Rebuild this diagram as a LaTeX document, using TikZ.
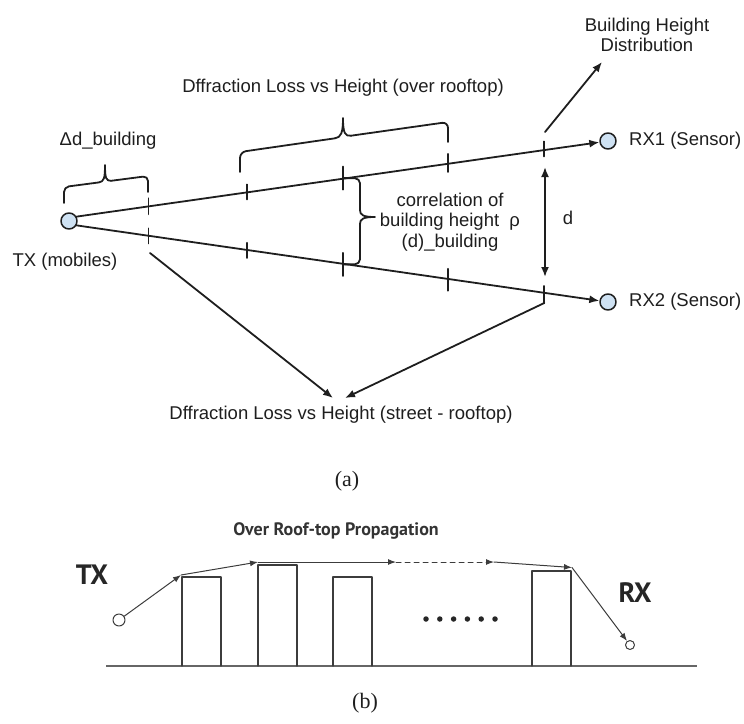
\documentclass[tikz,border=0pt]{standalone}
\usepackage{fontspec}
\setmainfont{Liberation Sans}
\newfontfamily\capfont{Liberation Serif}
\newfontfamily\bfont{PT Sans}
\usetikzlibrary{arrows.meta,calc}
\definecolor{sensfill}{RGB}{207,226,243}
\definecolor{ink}{RGB}{30,30,30}
\definecolor{bink}{RGB}{60,60,60}
\newcommand\tickmark[3]{\draw[ln] ($(#1)+(0,-#2)$) -- ($(#1)+(0,#3)$);}
\begin{document}
\begin{tikzpicture}[x=1pt,y=-1pt, line cap=round, line join=round,
  lbl/.style={font=\fontsize{18.5}{20.5}\selectfont, text=ink, inner sep=0pt},
  ln/.style={line width=1.8pt, draw=ink},
  arr/.style={ln, -{Latex[length=10pt,width=8pt]}},
  dbl/.style={ln, {Latex[length=10pt,width=8pt]}-{Latex[length=10pt,width=8pt]}},
  sens/.style={circle, draw=ink, line width=1.5pt, fill=sensfill, minimum size=16pt, inner sep=0pt},
  capl/.style={font=\capfont\fontsize{22}{26}\selectfont, text=ink, inner sep=0pt},
  bl/.style={line width=1pt, draw=bink},
  barr/.style={bl, -{Latex[length=8pt,width=6pt]}},
  bdash/.style={bl, dashed, dash pattern=on 5pt off 4pt, -{Latex[length=8pt,width=6pt]}},
  bldg/.style={draw=bink, line width=1.1pt},
  bcirc/.style={circle, draw=bink, line width=1pt, fill=white, inner sep=0pt},
  bbig/.style={font=\bfont\bfseries\fontsize{28}{30}\selectfont, text=black!85, inner sep=0pt},
  btitle/.style={font=\bfont\bfseries\fontsize{18}{20}\selectfont, text=black!80, inner sep=0pt},
  dotc/.style={circle, fill=black!85, inner sep=0pt, minimum size=5.5pt}
]
\useasboundingbox (0,0) rectangle (744,723);

% ---------------- (a) ----------------
\node[sens] (tx) at (69,221) {};
\node[sens] (rx1) at (608,141) {};
\node[sens] (rx2) at (608,302) {};
\node[lbl] (txt) at (65,262) {TX (mobiles)};
\node[lbl, anchor=west] (rx1t) at (629,141) {RX1 (Sensor)};
\node[lbl, anchor=west] (rx2t) at (629,302) {RX2 (Sensor)};

\draw[arr] (tx.30) -- (rx1);
\draw[arr] (tx.-30) -- (rx2);

\path (tx.30) -- (rx1.west)
  coordinate[pos=.1375] (u1) coordinate[pos=.3264] (u2) coordinate[pos=.5096] (u3)
  coordinate[pos=.7099] (u4) coordinate[pos=.8950] (u5);
\path (tx.-30) -- (rx2.west)
  coordinate[pos=.1375] (l1) coordinate[pos=.3264] (l2) coordinate[pos=.5096] (l3)
  coordinate[pos=.7099] (l4) coordinate[pos=.8950] (l5);

\tickmark{u1}{8}{8}
\tickmark{u2}{7.5}{7.5}
\tickmark{u3}{11.5}{11.5}
\tickmark{u4}{9}{9}
\tickmark{u5}{7.5}{7.5}
\tickmark{l1}{7.5}{7.5}
\tickmark{l2}{7.5}{7.5}
\tickmark{l3}{11.5}{11.5}
\tickmark{l4}{11}{11}
\tickmark{l5}{8}{9}

% labels
\node[lbl] (ddb) at (108,141) {Δd\_building};
\node[lbl] (over) at (343,88) {Dffraction Loss vs Height (over rooftop)};
\node[lbl, align=center] (bhd) at (647,35) {Building Height\\Distribution};
\node[lbl, align=center] (corr) at (450,222) {correlation of\\building height\ \ ρ\\(d)\_building};
\node[lbl] (dl) at (568,218) {d};
\node[lbl] (street) at (341,415) {Dffraction Loss vs Height (street - rooftop)};
\node[capl] (capa) at (347,481) {(a)};

% brace: delta d
\draw[ln, rounded corners=5] (64,203) -- (64,187) -- (99,182.4);
\draw[ln] (99,182.4) .. controls (104,181.7) and (105,178) .. (105,165)
          .. controls (105,178) and (106,181) .. (111,180.8);
\draw[ln, rounded corners=5] (111,180.8) -- (148,176) -- (148,192);

% brace: over rooftop
\draw[ln, rounded corners=6] (240,172) -- (240,152) -- (335,138.3);
\draw[ln] (335,138.3) .. controls (341,137.4) and (343,133) .. (343,118)
          .. controls (343,133) and (345,136.5) .. (351,135.7);
\draw[ln, rounded corners=6] (351,135.7) -- (448,122) -- (448,142);

% brace: correlation
\draw[ln, rounded corners=5] (u3) -- (360,178.3) -- (360,210);
\draw[ln] (360,210) .. controls (360,215) and (363,217) .. (375,217)
          .. controls (363,217) and (360,219) .. (360,224);
\draw[ln, rounded corners=5] (360,224) -- (360,264.2) -- (l3);

% arrows
\coordinate (bs) at (545,132);
\coordinate (be) at (602,62);
\draw[arr] (bs) -- (be);
\coordinate (dt) at (545,167);
\coordinate (db) at (545,277);
\draw[dbl] (dt) -- (db);
\coordinate (la) at (150,253);
\coordinate (lt) at (333,398);
\draw[arr] (la) -- (lt);
\coordinate (ra) at ($(l5)+(0,9)$);
\coordinate (rt) at (345,398);
\draw[arr] (ra) -- (rt);

% ---------------- (b) ----------------
\node[btitle] (title) at (336,531) {Over Roof-top Propagation};
\node[bbig] (btxt) at (92,575) {TX};
\node[bbig] (brxt) at (635,593) {RX};

\draw[draw=black!60, line width=1.5pt, line cap=butt] (106,666) coordinate (g0) -- (697,666) coordinate (g1);
\draw[bldg] (182,666) |- (221,577) -- (221,666);
\draw[bldg] (258,666) |- (297,565) -- (297,666);
\draw[bldg] (333,666) |- (372,577) -- (372,666);
\draw[bldg] (532,666) |- (571,571) -- (571,666);

\node[bcirc, minimum size=12pt] (btx) at (119,620) {};
\node[bcirc, minimum size=9pt] (brx) at (630,645) {};
\coordinate (p1) at (181,575);
\coordinate (p2) at (258,562);
\coordinate (p3) at (396,562);
\coordinate (p4) at (494,562);
\coordinate (p5) at (572,567.5);
\draw[barr] (btx) -- (p1);
\draw[barr] (p1) -- (p2);
\draw[barr] (p2) -- (p3);
\draw[bdash] (p3) -- (p4);
\draw[barr] (p4) -- (p5);
\draw[barr] (p5) -- (brx);

\foreach \i in {0,...,5} {
  \node[dotc] (dot\i) at (426+13.8*\i,619) {};
}

\node[capl] (capb) at (365,703) {(b)};
\end{tikzpicture}
\end{document}
